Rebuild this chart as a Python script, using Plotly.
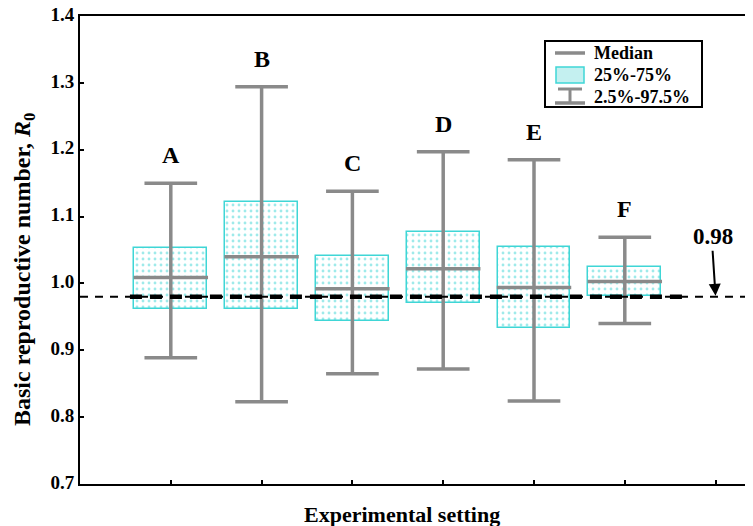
import plotly.graph_objects as go

groups = ["A", "B", "C", "D", "E", "F"]
positions = [1, 2, 3, 4, 5, 6]
low = [0.889, 0.823, 0.865, 0.872, 0.824, 0.940]
q1 = [0.962, 0.962, 0.944, 0.970, 0.934, 0.981]
median = [1.009, 1.040, 0.992, 1.022, 0.994, 1.003]
q3 = [1.053, 1.122, 1.041, 1.077, 1.055, 1.025]
high = [1.150, 1.294, 1.138, 1.197, 1.185, 1.069]
threshold = 0.98
threshold_label = "0.98"
y_ticks = [0.7, 0.8, 0.9, 1.0, 1.1, 1.2, 1.3, 1.4]
legend_labels = ["Median", "25%-75%", "2.5%-97.5%"]
x_title = "Experimental setting"
y_title = "Basic reproductive number, <i>R</i><sub>0</sub>"

FONT = "Liberation Serif"
GREY = "#8a8a8a"
CYAN = "#3fd6d6"
W, H = 753, 526
OFF = 8  # page body margin in the browser
ML, MR, MT, MB = 72, 0, 8, 50
BOXW = 0.8
CAPW = 0.58

fig = go.Figure()

# IQR boxes
fig.add_trace(go.Bar(
    x=positions, base=q1, y=[b - a for a, b in zip(q1, q3)], width=BOXW,
    marker=dict(color="white", line=dict(color=CYAN, width=1.5),
                pattern=dict(shape=".", fgcolor=CYAN, bgcolor="white", size=6, solidity=0.18)),
    showlegend=False, hoverinfo="skip"))

# whiskers
wx, wy = [], []
for p, lo, hi in zip(positions, low, high):
    wx += [p, p, None, p - CAPW / 2, p + CAPW / 2, None, p - CAPW / 2, p + CAPW / 2, None]
    wy += [lo, hi, None, hi, hi, None, lo, lo, None]
fig.add_trace(go.Scatter(x=wx, y=wy, mode="lines", line=dict(color=GREY, width=3.5),
                         showlegend=False, hoverinfo="skip"))

# medians
mx, my = [], []
for p, m in zip(positions, median):
    mx += [p - BOXW / 2 - 0.01, p + BOXW / 2 + 0.01, None]
    my += [m, m, None]
fig.add_trace(go.Scatter(x=mx, y=my, mode="lines", line=dict(color=GREY, width=3.5),
                         showlegend=False, hoverinfo="skip"))

XR = [0, 7.5]
# threshold lines
fig.add_trace(go.Scatter(x=[XR[0], XR[1]], y=[threshold, threshold], mode="lines",
                         line=dict(color="black", width=2, dash="8px,7px"),
                         showlegend=False, hoverinfo="skip"))
fig.add_trace(go.Scatter(x=[0.55, 6.65], y=[threshold, threshold], mode="lines",
                         line=dict(color="black", width=4.5, dash="12px,8px"),
                         showlegend=False, hoverinfo="skip"))

# group letters
for p, g, hi in zip(positions, groups, high):
    fig.add_annotation(x=p, y=hi, text=f"<b>{g}</b>", showarrow=False, yshift=28,
                       font=dict(family=FONT, size=24, color="black"))

# threshold arrow annotation
fig.add_annotation(x=7, y=threshold, text=f"<b>{threshold_label}</b>", showarrow=True,
                   arrowhead=2, arrowsize=1.2, arrowwidth=2, arrowcolor="black",
                   ax=-3, ay=-46, standoff=1, yanchor="bottom",
                   font=dict(family=FONT, size=23, color="black"))

# screen pixel -> paper helpers
PW = W - ML - MR
PH = H - MT - MB
def px(x):
    return (x - OFF - ML) / PW
def py(y):
    return (H - MB - (y - OFF)) / PH

# axis titles
fig.add_annotation(xref="paper", yref="paper", x=px(402), y=py(514), text=f"<b>{x_title}</b>",
                   showarrow=False, xanchor="center", yanchor="middle",
                   font=dict(family=FONT, size=22, color="black"))
fig.add_annotation(xref="paper", yref="paper", x=px(24), y=py(270), text=f"<b>{y_title}</b>",
                   showarrow=False, xanchor="center", yanchor="middle", textangle=-90,
                   font=dict(family=FONT, size=24, color="black"))

# custom legend
shapes = []
shapes.append(dict(type="rect", xref="paper", yref="paper", x0=px(545), x1=px(702),
                   y0=py(107), y1=py(41), line=dict(color="black", width=2),
                   fillcolor="white", layer="above"))
shapes.append(dict(type="line", xref="paper", yref="paper", x0=px(555), x1=px(585),
                   y0=py(53), y1=py(53), line=dict(color=GREY, width=3.5), layer="above"))
shapes.append(dict(type="rect", xref="paper", yref="paper", x0=px(556), x1=px(584),
                   y0=py(83), y1=py(67), line=dict(color=CYAN, width=1.5),
                   fillcolor="#c4f0f0", layer="above"))
shapes.append(dict(type="line", xref="paper", yref="paper", x0=px(558), x1=px(582),
                   y0=py(89), y1=py(89), line=dict(color=GREY, width=3), layer="above"))
shapes.append(dict(type="line", xref="paper", yref="paper", x0=px(570), x1=px(570),
                   y0=py(89), y1=py(103), line=dict(color=GREY, width=3), layer="above"))
shapes.append(dict(type="line", xref="paper", yref="paper", x0=px(555), x1=px(585),
                   y0=py(103), y1=py(103), line=dict(color=GREY, width=3.5), layer="above"))
for lbl, yy in zip(legend_labels, [53, 75, 97]):
    fig.add_annotation(xref="paper", yref="paper", x=px(592), y=py(yy), text=f"<b>{lbl}</b>",
                       showarrow=False, xanchor="left", yanchor="middle",
                       font=dict(family=FONT, size=18, color="black"))

fig.update_layout(
    width=W, height=H, margin=dict(l=ML, r=MR, t=MT, b=MB, autoexpand=False),
    plot_bgcolor="white", paper_bgcolor="white", shapes=shapes,
    font=dict(family=FONT, color="black"),
    bargap=0,
    xaxis=dict(range=XR, tickmode="array", tickvals=list(range(0, 8)), ticktext=[""] * 8,
               ticks="inside", ticklen=4, tickwidth=1.5, tickcolor="black",
               showline=True, linecolor="black", linewidth=2, mirror=True,
               showgrid=False, zeroline=False, automargin=False),
    yaxis=dict(range=[0.7, 1.4], tickmode="array", tickvals=y_ticks,
               ticktext=[f"<b>{v:.1f}</b>" for v in y_ticks],
               ticks="inside", ticklen=4, tickwidth=1.5, tickcolor="black",
               showline=True, linecolor="black", linewidth=2,
               showgrid=False, zeroline=False, automargin=False,
               ticklabeloverflow="allow", ticklabelshift=-2,
               tickfont=dict(family=FONT, size=19)),
)

fig.write_html("out.html")
